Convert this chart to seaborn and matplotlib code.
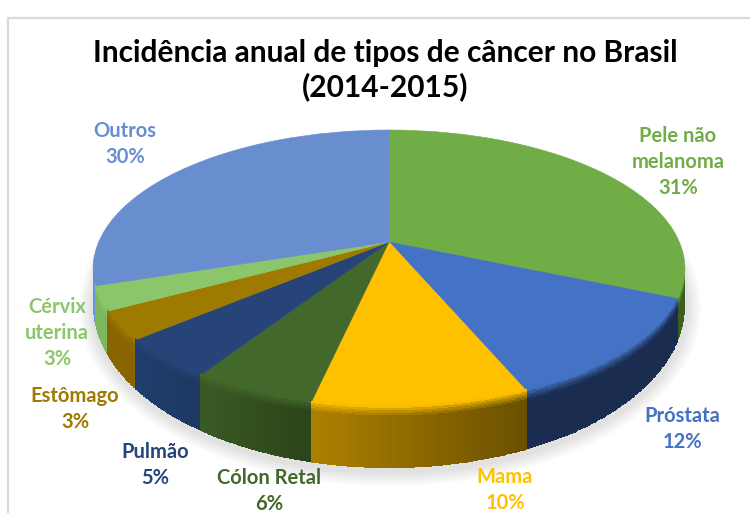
import numpy as np
import matplotlib
matplotlib.use("Agg")
import matplotlib.pyplot as plt
from matplotlib.transforms import Transform
from matplotlib.patches import Ellipse
import seaborn as sns

# ---- data ----
categories = ["Pele não\nmelanoma", "Próstata", "Mama", "Cólon Retal", "Pulmão", "Estômago", "Cérvix\nuterina", "Outros"]
values = [31.4, 12.2, 9.9, 5.7, 4.7, 3.3, 2.8, 30.0]
title = "Incidência anual de tipos de câncer no Brasil\n(2014-2015)"

# ---- styles ----
top_hex = ["#70AD47", "#4472C4", "#FFC000", "#43682B", "#264478", "#9E7A00", "#8CC66A", "#698ED0"]
label_hex = ["#70AD47", "#4472C4", "#FFC000", "#43682B", "#264478", "#9E7A00", "#8CC66A", "#698ED0"]
wall_a_hex = ["#3C5F20", "#1A2C50", "#AD8000", "#3A5A24", "#1F3D6E", "#8A6400", "#7DB65C", "#5F94E0"]
wall_b_hex = ["#3C5F20", "#1A2C50", "#6A5000", "#2C4419", "#1D3862", "#8A6400", "#7DB65C", "#5F94E0"]
label_xy = [(678, 162), (682, 429), (505, 490), (269, 491), (155, 465), (75, 409), (57, 333), (125, 144)]

CX, RX, CY, RY, C = 389.0, 296.0, 269.0, 139.0, 27.0
BOT_CY, BOT_RY = 305.0, 163.0


class Tilt(Transform):
    """Projects the unit pie on to the tilted disc, in image pixels."""
    input_dims = output_dims = 2
    is_separable = False
    has_inverse = False

    def transform_non_affine(self, values):
        p = np.asarray(values, float).reshape(-1, 2)
        k = C / RY
        d = 1 + k * p[:, 1]
        x = CX + RX * np.sqrt(1 - k * k) * p[:, 0] / d
        y = CY - (RY * p[:, 1] + C) / d
        return np.column_stack([x, y])


sns.set_theme(style="white")
plt.rcParams["font.family"] = ["Lato", "DejaVu Sans"]
top_colors = sns.color_palette(top_hex)
wall_a = np.array(sns.color_palette(wall_a_hex))
wall_b = np.array(sns.color_palette(wall_b_hex))

fig = plt.figure(figsize=(7.5, 5.13), dpi=100)
ax = fig.add_axes([0, 0, 1, 1])

wedges, _ = ax.pie(values, colors=top_colors, startangle=90, counterclock=False,
                   radius=1, wedgeprops=dict(linewidth=0))
tilt = Tilt()
for w, col in zip(wedges, top_colors):
    w.set_transform(tilt + ax.transData)
    w.set_edgecolor(col)
    w.set_linewidth(0.4)
    w.set_zorder(3)

ax.set_aspect("auto")
ax.set_xlim(0, 750)
ax.set_ylim(513, 0)
ax.axis("off")

# soft shadow under the disc
for i in range(10):
    ax.add_patch(Ellipse((CX + 1, BOT_CY + 3), 2 * RX + 2 * (11 - i) * 1.4, 2 * BOT_RY + 2 * (11 - i) * 1.4,
                         fc="black", ec="none", alpha=0.012, zorder=1))

# side wall
k = C / RY
f_start = np.arccos(-k) / (2 * np.pi)
f_end = 1 - f_start
edges = np.cumsum([0] + values) / sum(values)
bevel_rows = np.linspace(0, 1, 26)
for i, (a, b) in enumerate(zip(edges[:-1], edges[1:])):
    lo, hi = max(a, f_start), min(b, f_end)
    if hi <= lo:
        continue
    th = 2 * np.pi * np.linspace(lo, hi, 80)
    rim = tilt.transform_non_affine(np.column_stack([np.sin(th), np.cos(th)]))
    x, ytop = rim[:, 0], rim[:, 1]
    s = np.sqrt(np.clip(1 - ((x - CX) / RX) ** 2, 0, 1))
    ybot = np.maximum(BOT_CY + BOT_RY * s, ytop)
    ytop2 = ytop - 2.5
    X = np.repeat(x[None, :], len(bevel_rows), axis=0)
    Y = ytop2[None, :] + bevel_rows[:, None] * (ybot - ytop2)[None, :]
    xm = 0.5 * (X[:-1, :-1] + X[:-1, 1:])
    ym = 0.5 * (Y[:-1, :-1] + Y[1:, :-1])
    h = (xm - xm.min()) / max(xm.max() - xm.min(), 1)
    base = wall_a[i][None, None, :] * (1 - h[..., None]) + wall_b[i][None, None, :] * h[..., None]
    depth = ym - (ytop2[:-1][None, :])
    blend = np.clip((depth - 1) / 10, 0, 1)[..., None] ** 0.8
    rgb = np.array(top_colors[i])[None, None, :] * (1 - blend) + base * blend
    ax.pcolormesh(X, Y, rgb, shading="flat", zorder=4, rasterized=True, linewidth=0)

# chart frame
ax.plot([750, 8, 8], [18, 18, 513], color="#D9D9D9", lw=1.6, zorder=0, solid_joinstyle="miter")

# title and labels
ax.text(385, 70, title, ha="center", va="center", fontsize=21.5, fontweight="bold",
        color="black", linespacing=1.2, zorder=6)
for name, val, col, (lx, ly) in zip(categories, values, label_hex, label_xy):
    ax.text(lx, ly, f"{name}\n{val:.0f}%", ha="center", va="center", fontsize=14.5,
            fontweight="bold", color=col, linespacing=1.4, zorder=6)

fig.savefig("out.png", dpi=100, facecolor="white")
